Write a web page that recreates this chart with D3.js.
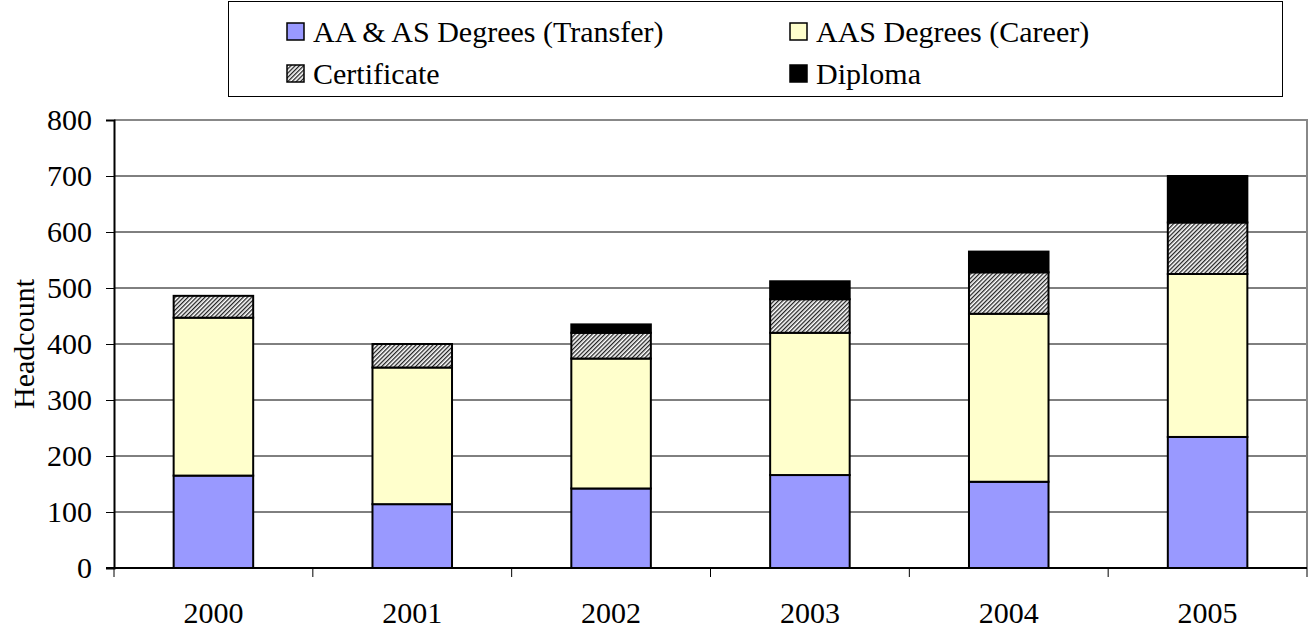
<!DOCTYPE html>
<html>
<head>
<meta charset="utf-8">
<script src="https://cdn.jsdelivr.net/npm/d3@7"></script>
<style>
  body { margin: 0; background: #fff; }
</style>
</head>
<body>
<div id="chart"></div>
<script>
"use strict"

const years = ["2000", "2001", "2002", "2003", "2004", "2005"]
const transfer = [165, 114, 142, 166, 154, 234]
const career = [282, 244, 232, 254, 300, 291]
const certificate = [39, 42, 46, 60, 74, 92]
const diploma = [0, 0, 15, 32, 37, 83]
const seriesNames = ["AA & AS Degrees (Transfer)", "AAS Degrees (Career)", "Certificate", "Diploma"]
const yTicks = [0, 100, 200, 300, 400, 500, 600, 700, 800]

const FONT = "'Liberation Serif', 'DejaVu Serif', serif"
const FS = 30

const W = 1314, H = 630
const margin = {top: 120, right: 7, bottom: 62, left: 114}
const width = W - margin.left - margin.right,
      height = H - margin.top - margin.bottom

const svg = d3.select("#chart")
  .append("svg")
  .attr("width", W)
  .attr("height", H)
  .style("font-family", FONT)
  .style("font-size", FS + "px")

// hatch pattern for certificate
const defs = svg.append("defs")
const pat = defs.append("pattern")
  .attr("id", "hatch")
  .attr("patternUnits", "userSpaceOnUse")
  .attr("width", 3)
  .attr("height", 3)
  .attr("patternTransform", "rotate(-45)")
pat.append("rect").attr("width", 3).attr("height", 3).attr("fill", "#fff")
pat.append("rect").attr("width", 3).attr("height", 1.3).attr("fill", "#222")

const fills = ["#9999ff", "#ffffcc", "url(#hatch)", "#000"]

const g = svg.append("g")
  .attr("transform", "translate(" + margin.left + "," + margin.top + ")")

const x = d3.scaleBand()
  .domain(years)
  .range([0, width])
  .paddingInner(0.6)
  .paddingOuter(0.3)

const y = d3.scaleLinear()
  .domain([0, 800])
  .range([height, 0])

// gridlines
g.append("g")
  .selectAll("line")
  .data(yTicks.filter(d => d > 0 && d < 800))
  .join("line")
  .attr("x1", 0).attr("x2", width)
  .attr("y1", d => y(d)).attr("y2", d => y(d))
  .attr("stroke", "#000")
  .attr("stroke-width", 1)

// plot border top/right
g.append("path")
  .attr("d", "M0," + y(800) + "H" + width + "V" + height)
  .attr("fill", "none")
  .attr("stroke", "#888")
  .attr("stroke-width", 2)

// stacked data
const rows = years.map((yr, i) => ({
  year: yr,
  s0: transfer[i], s1: career[i], s2: certificate[i], s3: diploma[i]
}))
const stack = d3.stack().keys(["s0", "s1", "s2", "s3"])(rows)

g.selectAll(".series")
  .data(stack)
  .join("g")
  .attr("class", "series")
  .attr("fill", (d, i) => fills[i])
  .selectAll("rect")
  .data(d => d.filter(p => p[1] - p[0] > 0))
  .join("rect")
  .attr("x", d => x(d.data.year))
  .attr("width", x.bandwidth())
  .attr("y", d => y(d[1]))
  .attr("height", d => y(d[0]) - y(d[1]))
  .attr("stroke", "#000")
  .attr("stroke-width", 2)

// Y axis
const yAxis = g.append("g")
  .call(d3.axisLeft(y).tickValues(yTicks).tickSize(8).tickPadding(14))
yAxis.attr("font-family", null).attr("font-size", null)
yAxis.select(".domain").attr("stroke", "#000").attr("stroke-width", 2)
yAxis.selectAll(".tick line").attr("stroke", "#000")
yAxis.selectAll("text").attr("fill", "#000")

// X axis with ticks at category boundaries
const xAxisG = g.append("g").attr("transform", "translate(0," + height + ")")
xAxisG.append("line")
  .attr("x1", -8).attr("x2", width)
  .attr("stroke", "#000").attr("stroke-width", 2)
xAxisG.selectAll(".xt")
  .data(d3.range(years.length + 1))
  .join("line")
  .attr("class", "xt")
  .attr("x1", i => i * width / years.length)
  .attr("x2", i => i * width / years.length)
  .attr("y1", 0).attr("y2", 9)
  .attr("stroke", "#000")
xAxisG.selectAll(".xl")
  .data(years)
  .join("text")
  .attr("class", "xl")
  .attr("x", d => x(d) + x.bandwidth() / 2)
  .attr("y", 55)
  .attr("text-anchor", "middle")
  .text(d => d)

// Y title
svg.append("text")
  .attr("transform", "translate(34," + (margin.top + height / 2) + ") rotate(-90)")
  .attr("text-anchor", "middle")
  .text("Headcount")

// legend
const legend = svg.append("g")
legend.append("rect")
  .attr("x", 228.5).attr("y", 1.5)
  .attr("width", 1054).attr("height", 95)
  .attr("fill", "#fff")
  .attr("stroke", "#000")
  .attr("stroke-width", 1)

const legPos = [[287, 31], [790, 31], [287, 73], [790, 73]]
const items = legend.selectAll(".li")
  .data(seriesNames)
  .join("g")
  .attr("class", "li")
  .attr("transform", (d, i) => "translate(" + legPos[i][0] + "," + legPos[i][1] + ")")
items.append("rect")
  .attr("x", 0).attr("y", -8)
  .attr("width", 17).attr("height", 17)
  .attr("fill", (d, i) => fills[i])
  .attr("stroke", "#000")
  .attr("stroke-width", 1.5)
items.append("text")
  .attr("x", 26)
  .attr("y", 11)
  .text(d => d)
</script>
</body>
</html>
